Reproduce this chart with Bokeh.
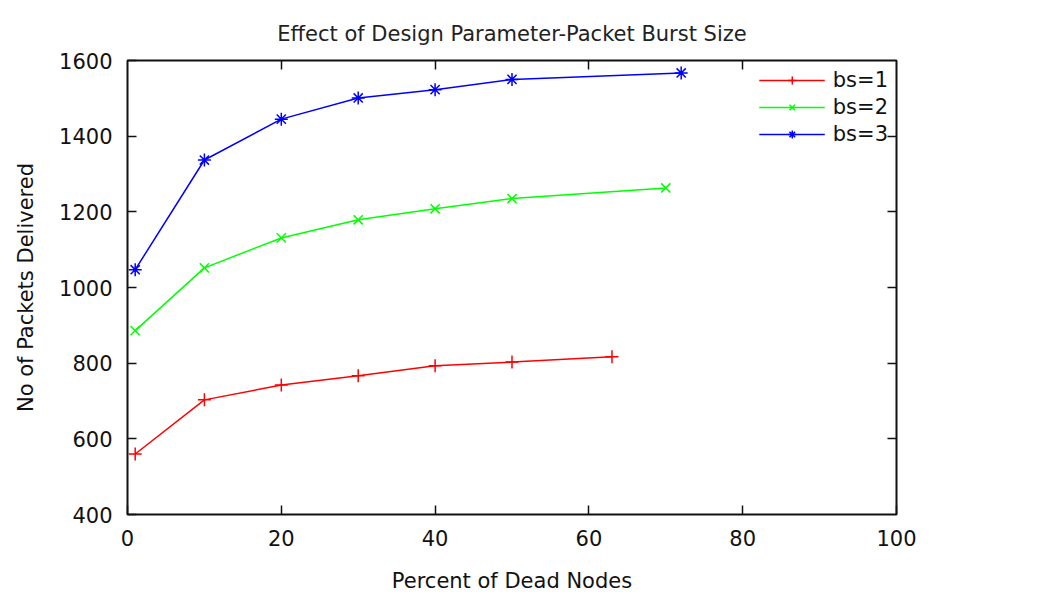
from bokeh.plotting import figure
from bokeh.models import Legend, LegendItem, LinearAxis, FixedTicker, Range1d, Title
from bokeh.embed import file_html
from bokeh.resources import INLINE

# data
x_bs1 = [1, 10, 20, 30, 40, 50, 63]
y_bs1 = [560, 703, 742, 767, 793, 803, 817]
x_bs2 = [1, 10, 20, 30, 40, 50, 70]
y_bs2 = [886, 1052, 1131, 1179, 1208, 1235, 1263]
x_bs3 = [1, 10, 20, 30, 40, 50, 72]
y_bs3 = [1047, 1337, 1445, 1501, 1523, 1550, 1567]
series_names = ["bs=1", "bs=2", "bs=3"]
x_ticks = [0, 20, 40, 60, 80, 100]
y_ticks = [400, 600, 800, 1000, 1200, 1400, 1600]
title_text = "Effect of Design Parameter-Packet Burst Size"

FONT = "DejaVu Sans"
FS = "21px"

p = figure(width=1051, height=597, output_backend="svg", toolbar_location=None,
           x_range=Range1d(0, 100), y_range=Range1d(400, 1600), title=None,
           min_border_left=127, min_border_right=155, min_border_top=60, min_border_bottom=83)

p.xgrid.visible = False
p.ygrid.visible = False
p.outline_line_color = "#111111"
p.outline_line_width = 2

def style_axis(ax, ticks, show_labels=True):
    ax.ticker = FixedTicker(ticks=ticks)
    ax.major_tick_in = 9
    ax.major_tick_out = 0
    ax.minor_tick_line_color = None
    ax.axis_line_color = None
    ax.major_tick_line_color = "#111111"
    ax.major_tick_line_width = 1.5
    ax.major_label_text_font = FONT
    if show_labels:
        ax.major_label_text_font_size = FS
        ax.major_label_text_color = "#111111"
        ax.major_label_standoff = 15
    else:
        ax.major_label_overrides = {t: "" for t in ticks}
        ax.major_label_text_font_size = "1px"
        ax.major_label_standoff = 0

style_axis(p.xaxis[0], x_ticks)
style_axis(p.yaxis[0], y_ticks)
p.xaxis.axis_label = "Percent of Dead Nodes"
p.yaxis.axis_label = "No of Packets Delivered"
for ax in (p.xaxis[0], p.yaxis[0]):
    ax.axis_label_text_font = FONT
    ax.axis_label_text_font_size = FS
    ax.axis_label_text_font_style = "normal"
    ax.axis_label_text_color = "#111111"
p.xaxis.axis_label_standoff = 20
p.yaxis.axis_label_standoff = 18

top_ax = LinearAxis()
style_axis(top_ax, x_ticks[1:-1], show_labels=False)
p.add_layout(top_ax, "above")
right_ax = LinearAxis()
style_axis(right_ax, y_ticks[1:-1], show_labels=False)
p.add_layout(right_ax, "right")

title = Title(text=title_text, align="center", text_font=FONT, text_font_size=FS,
              text_font_style="normal", text_color="#222222", standoff=30)
p.add_layout(title, "above")

colors = ["#ff0000", "#00ff00", "#0000ff"]
markers = ["cross", "x", "asterisk"]
xs = [x_bs1, x_bs2, x_bs3]
ys = [y_bs1, y_bs2, y_bs3]
items = []
for name, xv, yv, c, m in zip(series_names, xs, ys, colors, markers):
    l = p.line(xv, yv, line_color=c, line_width=1.5)
    s = p.scatter(xv, yv, marker=m, size=13, line_color=c, line_width=1.5, fill_color=None)
    items.append(LegendItem(label=name, renderers=[l, s]))

legend = Legend(items=items, location="top_right", glyph_width=66, glyph_height=20,
                label_standoff=8, spacing=3, padding=3, margin=8,
                border_line_color=None, background_fill_alpha=0,
                label_text_font=FONT, label_text_font_size=FS, label_text_color="#111111")
p.add_layout(legend, "center")

open("out.html", "w").write(file_html(p, INLINE))
